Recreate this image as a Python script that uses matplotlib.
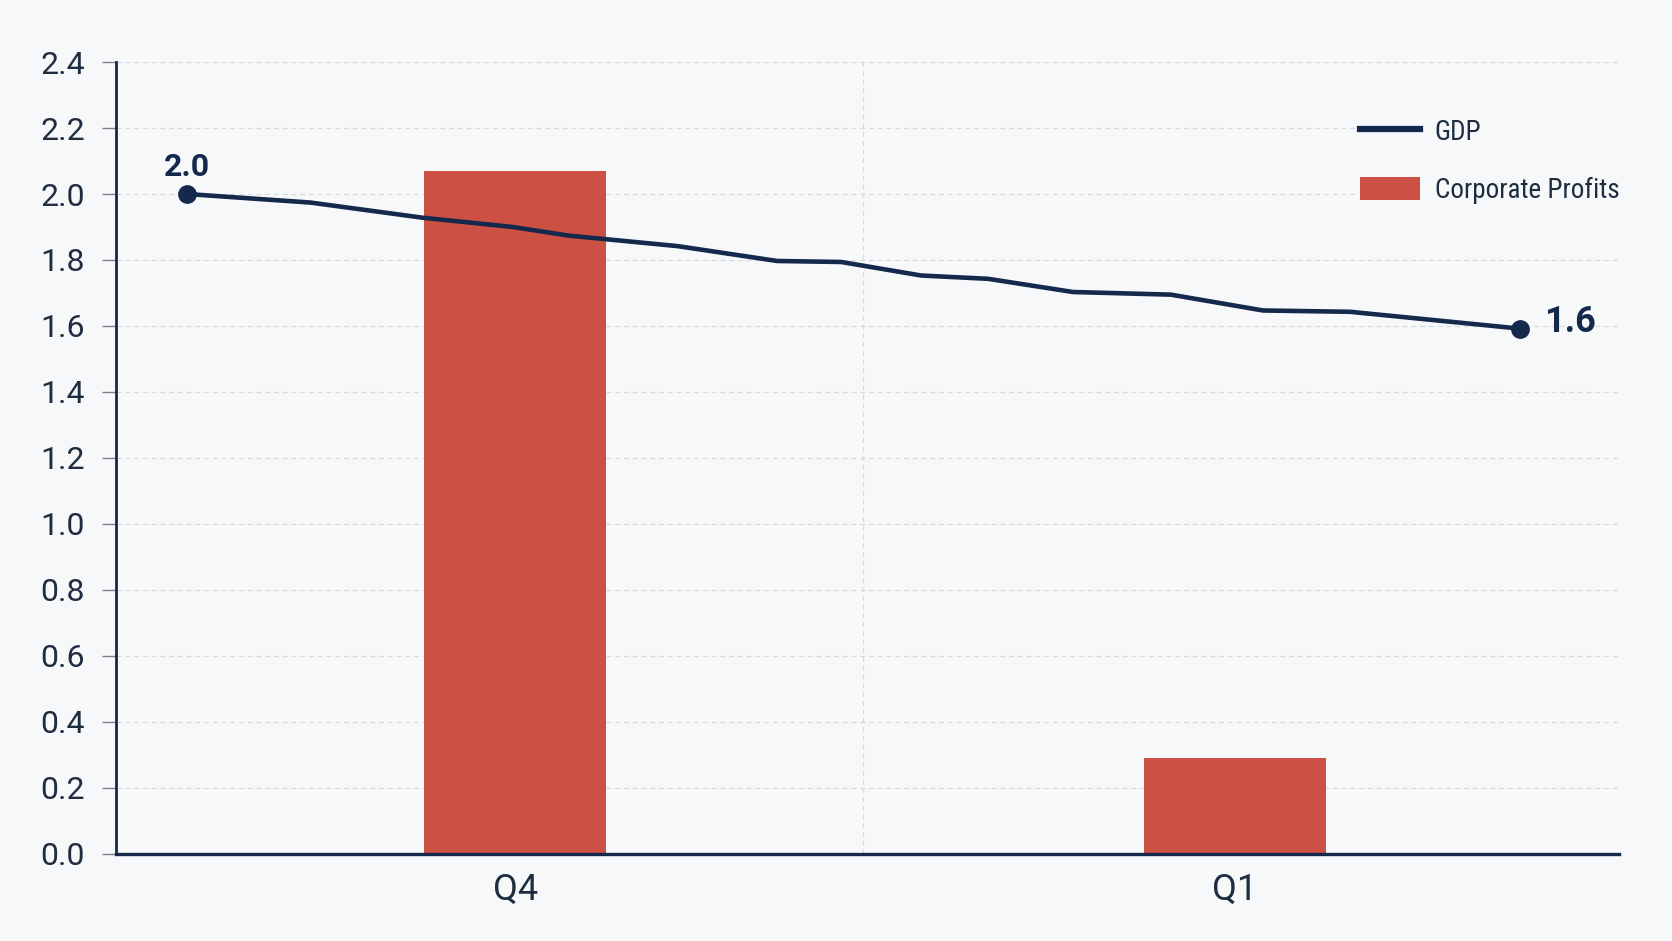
import matplotlib
matplotlib.use("Agg")
import matplotlib.pyplot as plt
from matplotlib import font_manager
from matplotlib.lines import Line2D
from matplotlib.patches import Patch

# data
categories = ["Q4", "Q1"]
profits = [2.07, 0.29]

gdp_x = [-0.456, -0.284, -0.128, -0.003, 0.074, 0.226, 0.364, 0.453,
         0.564, 0.657, 0.775, 0.911, 1.039, 1.160, 1.396]
gdp_y = [2.00, 1.974, 1.928, 1.900, 1.874, 1.842, 1.797, 1.794,
         1.753, 1.743, 1.703, 1.695, 1.647, 1.643, 1.592]

yticks = [0.0, 0.2, 0.4, 0.6, 0.8, 1.0, 1.2, 1.4, 1.6, 1.8, 2.0, 2.2, 2.4]

bg = "#f7f8fa"
navy = "#15294d"
red = "#cd5045"
grid_c = "#d6d9dd"
text_c = "#1e2d40"

# condensed face for the legend, if one is installed
fonts = font_manager.fontManager.ttflist
narrow = None
for cand in ["Roboto Condensed", "Liberation Sans Narrow", "Open Sans Condensed"]:
    if any(f.name == cand for f in fonts):
        narrow = {"family": cand}
        break
if narrow is None:
    if any(f.name == "DejaVu Sans" and f.stretch == "condensed" for f in fonts):
        narrow = {"family": "DejaVu Sans", "stretch": "condensed"}
    else:
        narrow = {"family": "Roboto"}
leg_size = 19.5 if narrow["family"] != "Roboto" else 17
px = leg_size * 100 / 72  # legend font size in pixels

plt.rcParams["font.family"] = ["Roboto", "DejaVu Sans"]

fig = plt.figure(figsize=(16.72, 9.41), dpi=100, facecolor=bg)
ax = fig.add_axes([0.0691, 0.0925, 0.899, 0.8416])
ax.set_facecolor(bg)

x_pos = list(range(len(categories)))
ax.bar(x_pos, profits, width=0.252, color=red, zorder=2)
ax.plot(gdp_x, gdp_y, color=navy, lw=3.3, zorder=3,
        marker="o", markersize=12.5, markevery=[0, len(gdp_x) - 1])

ax.annotate(f"{gdp_y[0]:.1f}", (gdp_x[0], gdp_y[0]), xytext=(0, 9),
            textcoords="offset points", ha="center", va="bottom",
            fontsize=23, fontweight="bold", color=navy)
ax.annotate(f"{gdp_y[-1]:.1f}", (gdp_x[-1], gdp_y[-1]), xytext=(17, 5),
            textcoords="offset points", ha="left", va="center",
            fontsize=26, fontweight="bold", color=navy)

ax.set_xlim(-0.555, 1.533)
ax.set_ylim(0, 2.4)
ax.set_yticks(yticks)
ax.set_yticklabels([f"{v:.1f}" for v in yticks])
ax.set_xticks(x_pos)
ax.set_xticklabels(categories)

ax.tick_params(axis="y", length=10, width=1, color="#7a7f86", pad=12,
               labelsize=23, labelcolor=text_c)
ax.tick_params(axis="x", length=0, pad=13, labelsize=26, labelcolor=text_c)

ax.grid(axis="y", color=grid_c, lw=0.9, ls=(0, (4, 3)), zorder=0)
ax.axvline(0.484, color=grid_c, lw=0.9, ls=(0, (4, 3)), zorder=0)

for s in ["top", "right"]:
    ax.spines[s].set_visible(False)
ax.spines["left"].set_color(navy)
ax.spines["left"].set_linewidth(2)
ax.spines["bottom"].set_color(navy)
ax.spines["bottom"].set_linewidth(2.4)

handles = [Line2D([0], [0], color=navy, lw=4.5),
           Patch(facecolor=red, edgecolor="none")]
leg = ax.legend(handles, ["GDP", "Corporate Profits"], loc="upper right",
                bbox_to_anchor=(1.004, 0.935), borderaxespad=0, borderpad=0.2,
                handlelength=59.5 / px, handleheight=25.7 / px,
                handletextpad=14.7 / px, labelspacing=31 / px,
                frameon=True, facecolor=bg, edgecolor="none",
                framealpha=1, prop={**narrow, "size": leg_size})
for t in leg.get_texts():
    t.set_color(text_c)

fig.savefig("out.png", dpi=100, facecolor=bg)
